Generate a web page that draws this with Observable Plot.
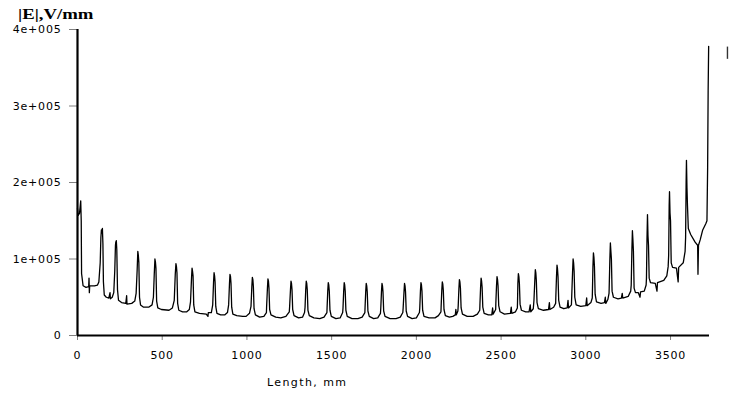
<!DOCTYPE html>
<html><head><meta charset="utf-8">
<script src="https://cdn.jsdelivr.net/npm/d3@7"></script>
<script src="https://cdn.jsdelivr.net/npm/@observablehq/plot@0.6"></script>
<style>
html,body{margin:0;padding:0;background:#fff;}
#wrap{position:relative;width:729px;height:396px;overflow:hidden;}
#title{position:absolute;z-index:2;left:18px;top:6px;line-height:15px;font:bold 15px "Liberation Serif",serif;transform:scaleX(1.25);transform-origin:0 0;white-space:nowrap;color:#000;}
#xlabel{position:absolute;z-index:2;left:267px;top:376px;line-height:11px;font:11px "DejaVu Sans",sans-serif;letter-spacing:1.4px;white-space:nowrap;color:#000;}
</style></head>
<body><div id="wrap"><div id="title">|E|,V/mm</div><div id="xlabel">Length, mm</div></div>
<script>
const yAxisTitle = "|E|,V/mm";
const xAxisTitle = "Length, mm";
const xTicks = [0, 500, 1000, 1500, 2000, 2500, 3000, 3500];
const yTicks = [0, 100000, 200000, 300000, 400000];
const yTickLabels = ["0", "1e+005", "2e+005", "3e+005", "4e+005"];
const sideMark = [[3836, 361000, 377000]];
// [length mm, |E| V/mm]
const trace = [
[0,166e3],[4,157e3],[12,160e3],[19,176e3],[22,150e3],[24,81e3],[33,65e3],[50,63e3],[66,64e3],[68,75e3],[70,56e3],[72,65e3],[100,65e3],[118,66e3],
[126,70e3],[134,95e3],[138,128e3],[141,138e3],[144,134e3],[147,140e3],[150,120e3],[153,70e3],[158,53e3],[170,50e3],[185,49e3],[192,56e3],[194,48e3],
[205,50e3],[214,56e3],[220,85e3],[224,118e3],[226,122e3],[229,124e3],[232,112e3],[236,60e3],[242,46e3],[260,43e3],[285,42e3],[290,52e3],[292,41e3],[320,42e3],[338,45e3],
[346,55e3],[352,85e3],[356,110e3],[359,105e3],[362,96e3],[366,50e3],[372,40e3],[390,37e3],[420,37e3],[440,40e3],
[448,50e3],[453,80e3],[457,100e3],[460,96e3],[463,88e3],[467,45e3],[474,36e3],[495,34e3],[540,33e3],[560,36e3],
[571,46e3],[577,80e3],[581,94e3],[584,90e3],[587,82e3],[591,42e3],[598,33e3],[620,31e3],[645,31e3],[660,34e3],
[667,44e3],[673,75e3],[676,88e3],[679,84e3],[682,78e3],[686,40e3],[693,31e3],[720,29e3],[760,28e3],[770,25e3],[772,30e3],[790,30e3],
[798,40e3],[803,70e3],[806,82e3],[809,78e3],[812,70e3],[816,38e3],[823,29e3],[845,27e3],[870,27e3],[885,30e3],
[892,40e3],[897,68e3],[900,80e3],[903,77e3],[906,68e3],[910,37e3],[917,28e3],[940,26e3],[975,25e3],[995,25e3],[1015,29e3],
[1024,38e3],[1029,64e3],[1032,76e3],[1035,73e3],[1038,64e3],[1042,35e3],[1050,27e3],[1075,24e3],[1100,25e3],[1115,30e3],
[1116,37e3],[1121,62e3],[1124,74e3],[1127,71e3],[1130,62e3],[1134,34e3],[1142,27e3],[1170,24e3],[1200,23e3],[1230,25e3],[1250,31e3],
[1252,38e3],[1257,60e3],[1260,71e3],[1263,68e3],[1266,60e3],[1270,34e3],[1278,26e3],[1305,23e3],[1328,24e3],[1340,30e3],
[1343,37e3],[1347,60e3],[1350,71e3],[1353,68e3],[1356,60e3],[1360,33e3],[1368,26e3],[1395,23e3],[1430,22e3],[1455,24e3],[1472,30e3],
[1473,36e3],[1477,58e3],[1480,69e3],[1483,66e3],[1486,58e3],[1490,33e3],[1498,25e3],[1525,22e3],[1550,23e3],[1565,30e3],
[1567,36e3],[1571,58e3],[1574,69e3],[1577,66e3],[1580,58e3],[1584,33e3],[1592,25e3],[1620,22e3],[1655,22e3],[1680,24e3],[1696,30e3],
[1697,36e3],[1701,57e3],[1704,68e3],[1707,65e3],[1710,57e3],[1714,32e3],[1722,25e3],[1748,22e3],[1772,23e3],[1788,29e3],
[1790,36e3],[1794,57e3],[1797,68e3],[1800,65e3],[1803,57e3],[1807,32e3],[1815,25e3],[1845,22e3],[1880,22e3],[1905,24e3],[1920,30e3],
[1922,36e3],[1927,57e3],[1930,68e3],[1933,65e3],[1936,57e3],[1940,32e3],[1948,25e3],[1975,22e3],[2000,23e3],[2018,30e3],
[2020,36e3],[2024,58e3],[2027,69e3],[2030,66e3],[2033,58e3],[2037,33e3],[2045,25e3],[2075,23e3],[2110,23e3],[2130,26e3],[2145,31e3],
[2146,37e3],[2150,59e3],[2153,70e3],[2156,67e3],[2159,59e3],[2163,34e3],[2171,26e3],[2195,24e3],[2215,25e3],[2230,27e3],[2233,34e3],[2236,27e3],[2245,32e3],
[2247,39e3],[2251,61e3],[2254,73e3],[2257,70e3],[2260,62e3],[2264,36e3],[2272,28e3],[2300,25e3],[2335,25e3],[2360,28e3],[2374,33e3],
[2375,40e3],[2379,63e3],[2382,75e3],[2385,71e3],[2388,63e3],[2392,37e3],[2400,29e3],[2425,27e3],[2445,27e3],[2450,36e3],[2453,28e3],[2468,34e3],
[2469,42e3],[2473,65e3],[2476,77e3],[2479,73e3],[2482,65e3],[2486,39e3],[2494,31e3],[2520,28e3],[2555,29e3],[2560,37e3],[2563,29e3],[2585,31e3],[2596,36e3],
[2597,44e3],[2599,68e3],[2602,81e3],[2605,77e3],[2608,68e3],[2612,41e3],[2620,33e3],[2645,31e3],[2665,31e3],[2672,40e3],[2675,31e3],[2690,35e3],
[2694,46e3],[2699,72e3],[2702,86e3],[2705,82e3],[2708,72e3],[2712,43e3],[2720,35e3],[2750,33e3],[2780,34e3],[2785,43e3],[2788,34e3],[2810,37e3],[2822,42e3],
[2823,50e3],[2827,77e3],[2830,92e3],[2833,87e3],[2836,77e3],[2840,46e3],[2848,37e3],[2870,35e3],[2890,36e3],[2895,46e3],[2898,36e3],[2915,40e3],
[2917,52e3],[2922,84e3],[2925,100e3],[2928,95e3],[2931,84e3],[2935,50e3],[2943,40e3],[2970,38e3],[3000,39e3],[3005,49e3],[3008,39e3],[3030,43e3],[3038,49e3],
[3039,57e3],[3042,90e3],[3045,108e3],[3048,102e3],[3051,90e3],[3055,54e3],[3063,44e3],[3090,42e3],[3110,43e3],[3115,50e3],[3118,42e3],[3130,47e3],[3137,55e3],
[3138,62e3],[3142,100e3],[3145,121e3],[3148,110e3],[3151,100e3],[3155,58e3],[3163,50e3],[3190,48e3],[3210,49e3],[3215,55e3],[3218,49e3],[3250,51e3],[3265,58e3],
[3268,66e3],[3272,112e3],[3275,137e3],[3278,125e3],[3281,110e3],[3285,62e3],[3293,56e3],[3310,56e3],[3320,50e3],[3323,57e3],[3345,58e3],[3356,66e3],
[3358,75e3],[3361,125e3],[3364,158e3],[3367,130e3],[3370,118e3],[3374,75e3],[3382,69e3],[3410,68e3],[3420,58e3],[3423,69e3],[3460,72e3],[3478,78e3],[3486,90e3],
[3489,105e3],[3492,170e3],[3494,188e3],[3497,160e3],[3500,150e3],[3504,95e3],[3512,89e3],[3535,88e3],[3545,70e3],[3548,89e3],[3575,95e3],[3586,110e3],
[3589,128e3],[3592,200e3],[3594,229e3],[3597,193e3],[3600,170e3],[3605,140e3],[3619,132e3],[3645,122e3],[3660,118e3],[3662,80e3],[3665,118e3],[3675,125e3],[3690,138e3],[3708,146e3],[3715,150e3],[3719,220e3],[3722,320e3],[3725,378e3]
];

const chart = Plot.plot({
  width: 729,
  height: 396,
  marginLeft: 77,
  marginRight: 20,
  marginTop: 29,
  marginBottom: 61,
  style: {fontFamily: "DejaVu Sans", fontSize: "11px", letterSpacing: "0.8px", background: "#fff", overflow: "visible"},
  x: {domain: [0, 3730]},
  y: {domain: [0, 400000]},
  marks: [
    Plot.axisX({ticks: xTicks, tickSize: 5, tickPadding: 11, tickFormat: d => String(d), stroke: "#808080", fill: "#000", label: null}),
    Plot.axisY({ticks: yTicks, tickSize: 8, tickPadding: 8, tickFormat: (d, i) => yTickLabels[i], stroke: "#808080", fill: "#000", label: null}),
    Plot.line(trace, {x: "0", y: "1", stroke: "#000", strokeWidth: 1.3}),
    Plot.ruleY([0], {stroke: "#000", strokeWidth: 2.2}),
    Plot.ruleX([0], {stroke: "#000", strokeWidth: 2.2}),
    Plot.ruleX(sideMark, {x: "0", y1: "1", y2: "2", stroke: "#333", strokeWidth: 1.4})
  ]
});
const wrap = document.getElementById("wrap");
wrap.insertBefore(chart, wrap.firstChild);
</script>
</body></html>
